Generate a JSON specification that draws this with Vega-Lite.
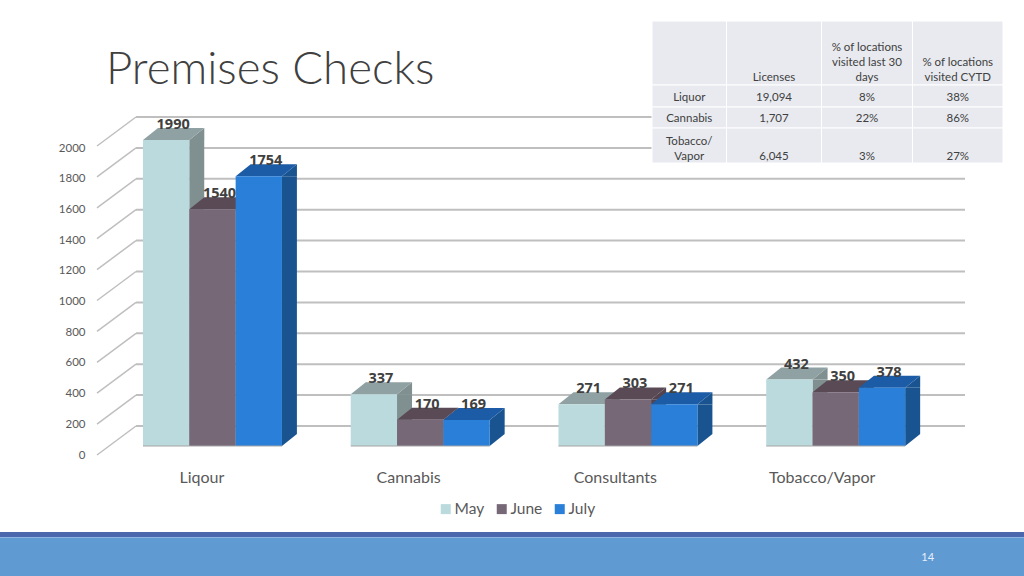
{
"$schema":"https://vega.github.io/schema/vega-lite/v6.json",
"width":1024,"height":576,"padding":0,"autosize":{"type":"none"},
"background":"white",
"config":{"view":{"stroke":null}},
"title":{"text":"Premises Checks","anchor":"start","frame":"group","dx":106,"offset":-94,"fontSize":45.6,"font":"Lato","fontWeight":300,"color":"#404040"},
"datasets":{
"bars":[
{"cat":"Liqour","series":"May","v":1990},{"cat":"Liqour","series":"June","v":1540},{"cat":"Liqour","series":"July","v":1754},
{"cat":"Cannabis","series":"May","v":337},{"cat":"Cannabis","series":"June","v":170},{"cat":"Cannabis","series":"July","v":169},
{"cat":"Consultants","series":"May","v":271},{"cat":"Consultants","series":"June","v":303},{"cat":"Consultants","series":"July","v":271},
{"cat":"Tobacco/Vapor","series":"May","v":432},{"cat":"Tobacco/Vapor","series":"June","v":350},{"cat":"Tobacco/Vapor","series":"July","v":378}],
"grid":[{"g":0},{"g":200},{"g":400},{"g":600},{"g":800},{"g":1000},{"g":1200},{"g":1400},{"g":1600},{"g":1800},{"g":2000}],
"cells":[
{"c0":0,"c1":1,"r0":0,"r1":1},{"c0":1,"c1":2,"r0":0,"r1":1},{"c0":2,"c1":3,"r0":0,"r1":1},{"c0":3,"c1":4,"r0":0,"r1":1},
{"c0":0,"c1":1,"r0":1,"r1":2},{"c0":1,"c1":2,"r0":1,"r1":2},{"c0":2,"c1":3,"r0":1,"r1":2},{"c0":3,"c1":4,"r0":1,"r1":2},
{"c0":0,"c1":1,"r0":2,"r1":3},{"c0":1,"c1":2,"r0":2,"r1":3},{"c0":2,"c1":3,"r0":2,"r1":3},{"c0":3,"c1":4,"r0":2,"r1":3},
{"c0":0,"c1":1,"r0":3,"r1":4},{"c0":1,"c1":2,"r0":3,"r1":4},{"c0":2,"c1":3,"r0":3,"r1":4},{"c0":3,"c1":4,"r0":3,"r1":4}],
"tabletext":[
{"c":2.5,"l":0,"t":"% of locations"},{"c":2.5,"l":1,"t":"visited last 30"},{"c":2.5,"l":2,"t":"days"},
{"c":3.5,"l":1,"t":"% of locations"},{"c":3.5,"l":2,"t":"visited CYTD"},{"c":1.5,"l":2,"t":"Licenses"},
{"c":0.5,"l":3,"t":"Liquor"},{"c":1.5,"l":3,"t":"19,094"},{"c":2.5,"l":3,"t":"8%"},{"c":3.5,"l":3,"t":"38%"},
{"c":0.5,"l":4,"t":"Cannabis"},{"c":1.5,"l":4,"t":"1,707"},{"c":2.5,"l":4,"t":"22%"},{"c":3.5,"l":4,"t":"86%"},
{"c":0.5,"l":5,"t":"Tobacco/"},{"c":0.5,"l":6,"t":"Vapor"},{"c":1.5,"l":6,"t":"6,045"},{"c":2.5,"l":6,"t":"3%"},{"c":3.5,"l":6,"t":"27%"}],
"footer":[{"part":"strip","a":0,"b":1,"p":0,"q":1},{"part":"line","a":0,"b":1,"p":1,"q":2},{"part":"panel","a":0,"b":1,"p":2,"q":3}],
"page":[{"a":0.906,"p":2.526,"t":"14"}]
},
"layer":[
{"data":{"name":"grid"},
 "layer":[
  {"mark":{"type":"rule","color":"#BFBFBF","strokeWidth":2},
   "encoding":{"x":{"datum":0,"type":"quantitative","scale":{"domain":[0,1],"range":[136,965]},"axis":null},"x2":{"datum":1},
   "y":{"field":"g","type":"quantitative","scale":{"domain":[0,2000],"range":[426,117]},"axis":null}}},
  {"mark":{"type":"point","shape":"M0,0L-39,29","filled":false,"size":4,"stroke":"#BFBFBF","strokeWidth":1.5,"opacity":1},
   "encoding":{"x":{"datum":0,"type":"quantitative","scale":{"domain":[0,1],"range":[136,965]},"axis":null},
   "y":{"field":"g","type":"quantitative","scale":{"domain":[0,2000],"range":[426,117]},"axis":null}}}
 ]},
{"data":{"name":"grid"},
 "mark":{"type":"point","opacity":0},
 "encoding":{"y":{"field":"g","type":"quantitative","scale":{"domain":[0,2000],"range":[455,148]},
   "axis":{"orient":"left","offset":-85,"format":"d","values":[0,200,400,600,800,1000,1200,1400,1600,1800,2000],"domain":false,"ticks":false,"grid":false,"labelPadding":0,"title":null,"labelFont":"Lato","labelFontSize":11.5,"labelColor":"#595959"}}}},
{"data":{"name":"bars"},
 "mark":{"type":"point","opacity":0},
 "encoding":{"x":{"field":"cat","type":"nominal","sort":null,"scale":{"domain":["Liqour","Cannabis","Consultants","Tobacco/Vapor"],"range":[98,925],"paddingInner":0,"paddingOuter":0},
   "axis":{"orient":"bottom","offset":-107,"domain":false,"ticks":false,"labelPadding":0,"labelAngle":0,"title":null,"labelFont":"Lato","labelFontSize":16,"labelColor":"#595959"}}}},
{"data":{"name":"bars"},
 "mark":{"type":"rule","strokeWidth":15},
 "encoding":{
  "x":{"field":"cat","type":"nominal","sort":null,"scale":{"domain":["Liqour","Cannabis","Consultants","Tobacco/Vapor"],"range":[139.2,970.2],"paddingInner":0,"paddingOuter":0},"axis":null},
  "xOffset":{"field":"series","type":"nominal","sort":null,"scale":{"domain":["May","June","July"],"paddingInner":0,"paddingOuter":0.742}},
  "y":{"field":"v","type":"quantitative","scale":{"domain":[0,2000],"range":[446,138.4]},"axis":null},
  "y2":{"datum":78},
  "color":{"field":"series","type":"nominal","sort":null,"scale":{"domain":["May","June","July"],"range":["#808F90","#52434E","#1A5490"]},"legend":null}}},
{"data":{"name":"bars"},
 "encoding":{
  "x":{"field":"cat","type":"nominal","sort":null,"scale":{"domain":["Liqour","Cannabis","Consultants","Tobacco/Vapor"],"range":[108.6,939.6],"paddingInner":0,"paddingOuter":0},"axis":null},
  "xOffset":{"field":"series","type":"nominal","sort":null,"scale":{"domain":["May","June","July"],"paddingInner":0,"paddingOuter":0.742}},
  "y":{"field":"v","type":"quantitative","scale":{"domain":[0,2000],"range":[446,138.4]},"axis":null}},
 "layer":[
  {"mark":{"type":"point","shape":"M23.15,0L38.15,-12L38.15,0Z","filled":true,"size":4,"opacity":1},
   "encoding":{"color":{"field":"series","type":"nominal","sort":null,"scale":{"domain":["May","June","July"],"range":["#808F90","#52434E","#1A5490"]},"legend":null}}},
  {"mark":{"type":"point","shape":"M23.15,0L23.15,-12L38.15,-12Z","filled":true,"size":4,"opacity":1},
   "encoding":{"y":{"datum":0,"type":"quantitative"},"color":{"field":"series","type":"nominal","sort":null,"scale":{"domain":["May","June","July"],"range":["#808F90","#52434E","#1A5490"]},"legend":null}}},
  {"mark":{"type":"point","shape":"M-23.15,0L23.15,0L38.15,-12L-8.15,-12Z","filled":true,"size":4,"opacity":1},
   "encoding":{"color":{"field":"series","type":"nominal","sort":null,"scale":{"domain":["May","June","July"],"range":["#8FA1A3","#5A4A55","#1C5CA6"]},"legend":null}}},
  {"mark":{"type":"bar"},
   "encoding":{"color":{"field":"series","type":"nominal","sort":null,"scale":{"domain":["May","June","July"],"range":["#BBDADD","#776878","#2A7FD9"]},
     "legend":{"orient":"none","legendX":438,"legendY":501,"direction":"horizontal","columns":3,"title":null,"symbolType":"square","symbolSize":100,"labelFont":"Lato","labelFontSize":15.5,"labelColor":"#595959","labelOffset":1,"columnPadding":9,"symbolOpacity":1}}}},
  {"mark":{"type":"tick","orient":"horizontal","size":46.3,"thickness":1,"color":"#A6A6A6","opacity":1},
   "encoding":{"y":{"datum":0,"type":"quantitative"}}},
  {"mark":{"type":"text","dx":7,"dy":-15,"baseline":"middle","align":"center","font":"Open Sans","fontWeight":"bold","fontSize":14.5,"color":"#404040"},
   "encoding":{"text":{"field":"v","type":"quantitative"}}}
 ],
 "resolve":{"scale":{"color":"independent"},"legend":{"color":"independent"}}},
{"data":{"name":"cells"},
 "mark":{"type":"rect","color":"#E8EAEF","stroke":"white","strokeWidth":1},
 "encoding":{"x":{"field":"c0","type":"quantitative","scale":{"domain":[0,1,2,3,4],"range":[652,726.5,821.5,912.5,1003]},"axis":null},"x2":{"field":"c1"},
  "y":{"field":"r0","type":"quantitative","scale":{"domain":[0,1,2,3,4],"range":[21,85,107,128,163]},"axis":null},"y2":{"field":"r1"}}},
{"data":{"name":"tabletext"},
 "mark":{"type":"text","font":"Lato","fontSize":11.5,"color":"#404040","align":"center","baseline":"middle"},
 "encoding":{"x":{"field":"c","type":"quantitative","scale":{"domain":[0,1,2,3,4],"range":[652,726.5,821.5,912.5,1003]},"axis":null},
  "y":{"field":"l","type":"quantitative","scale":{"domain":[0,1,2,3,4,5,6],"range":[48,63,78,98,119,142,157]},"axis":null},
  "text":{"field":"t","type":"nominal"}}},
{"data":{"name":"footer"},
 "mark":{"type":"rect"},
 "encoding":{"x":{"field":"a","type":"quantitative","scale":{"domain":[0,1],"range":[0,1024]},"axis":null},"x2":{"field":"b"},
  "y":{"field":"p","type":"quantitative","scale":{"domain":[0,1,2,3],"range":[532,537,538,576]},"axis":null},"y2":{"field":"q"},
  "color":{"field":"part","type":"nominal","scale":{"domain":["strip","line","panel"],"range":["#4A66AC","#8DB4E2","#5F9AD2"]},"legend":null}}},
{"data":{"name":"page"},
 "mark":{"type":"text","font":"Lato","fontSize":11,"color":"#E8F0FA","align":"center","baseline":"middle"},
 "encoding":{"x":{"field":"a","type":"quantitative","scale":{"domain":[0,1],"range":[0,1024]},"axis":null},
  "y":{"field":"p","type":"quantitative","scale":{"domain":[0,1,2,3],"range":[532,537,538,576]},"axis":null},
  "text":{"field":"t","type":"nominal"}}}
],
"resolve":{"scale":{"x":"independent","y":"independent","color":"independent","xOffset":"independent"},"axis":{"x":"independent","y":"independent"},"legend":{"color":"independent"}}
}
